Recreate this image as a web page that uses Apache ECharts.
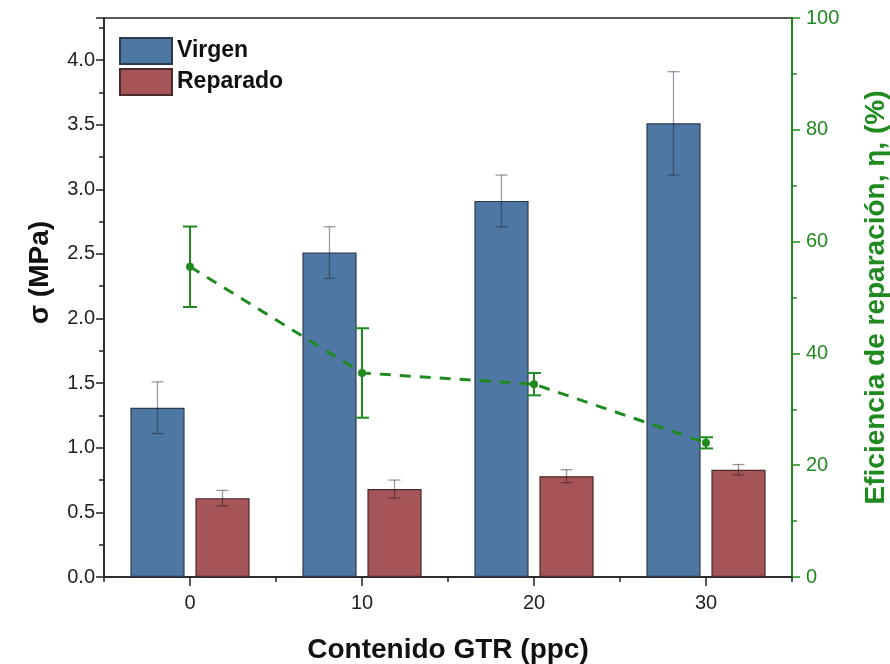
<!DOCTYPE html>
<html>
<head>
<meta charset="utf-8">
<script src="https://cdn.jsdelivr.net/npm/echarts@6/dist/echarts.min.js"></script>
<style>
  html, body { margin: 0; padding: 0; background: #fff; }
  #main { width: 890px; height: 664px; }
</style>
</head>
<body>
<div id="main"></div>
<script>
// datos
var categorias = ['0', '10', '20', '30'];
var virgen = [1.31, 2.51, 2.91, 3.51];
var virgenErr = [0.20, 0.20, 0.20, 0.40];
var reparado = [0.61, 0.68, 0.78, 0.83];
var reparadoErr = [0.06, 0.07, 0.05, 0.04];
var eficiencia = [55.5, 36.5, 34.5, 24];
var eficienciaErr = [7.2, 8, 2, 1];

var verde = '#1f8a1f';
var azul = '#4f77a3';
var rojo = '#a55457';

var chart = echarts.init(document.getElementById('main'));

// barra de error generica; shift = desplazamiento relativo al ancho de banda
function errorSeries(vals, errs, yIndex, shift, color, capW, lw) {
  return {
    type: 'custom',
    xAxisIndex: 0,
    yAxisIndex: yIndex,
    z: 5,
    silent: true,
    data: vals.map(function (v, i) { return [i, v - errs[i], v + errs[i]]; }),
    renderItem: function (params, api) {
      var band = api.size([1, 0])[0];
      var lo = api.coord([api.value(0), api.value(1)]);
      var hi = api.coord([api.value(0), api.value(2)]);
      var x = lo[0] + band * shift;
      var st = { stroke: color, lineWidth: lw };
      return {
        type: 'group',
        children: [
          { type: 'line', shape: { x1: x, y1: hi[1], x2: x, y2: lo[1] }, style: st },
          { type: 'line', shape: { x1: x - capW / 2, y1: hi[1], x2: x + capW / 2, y2: hi[1] }, style: st },
          { type: 'line', shape: { x1: x - capW / 2, y1: lo[1], x2: x + capW / 2, y2: lo[1] }, style: st }
        ]
      };
    }
  };
}

var option = {
  animation: false,
  textStyle: { fontFamily: 'Liberation Sans, Arial, sans-serif' },
  grid: {
    left: 104, right: 98, top: 18, bottom: 87,
    outerBoundsMode: 'none',
    containLabel: false,
    show: true, borderColor: '#222', borderWidth: 1.5
  },
  legend: {
    orient: 'vertical',
    left: 114, top: 32,
    icon: 'rect',
    itemWidth: 52, itemHeight: 26, itemGap: 3,
    textStyle: { fontSize: 23, fontWeight: 'bold', color: '#111' },
    data: ['Virgen', 'Reparado']
  },
  xAxis: [
    {
      type: 'category',
      data: categorias,
      name: 'Contenido GTR (ppc)',
      nameLocation: 'middle',
      nameGap: 59,
      nameTextStyle: { fontSize: 28, fontWeight: 'bold', color: '#111' },
      axisLine: { lineStyle: { color: '#222', width: 1.5 } },
      axisTick: { show: true, alignWithLabel: false, length: 5, lineStyle: { color: '#222', width: 1.5 } },
      axisLabel: { fontSize: 20, color: '#222', margin: 16 }
    },
    {
      type: 'category',
      data: categorias,
      position: 'bottom',
      axisLine: { show: false },
      axisTick: { show: true, alignWithLabel: true, length: 9, lineStyle: { color: '#222', width: 1.5 } },
      axisLabel: { show: false }
    }
  ],
  yAxis: [
    {
      type: 'value',
      min: 0,
      max: 4.325,
      interval: 0.5,
      name: 'σ (MPa)',
      nameLocation: 'middle',
      nameGap: 50,
      nameTextStyle: { fontSize: 28, fontWeight: 'bold', color: '#111', padding: [0, 0, 0, 50] },
      axisLine: { show: true, lineStyle: { color: '#222', width: 1.5 } },
      axisTick: { show: true, length: 8, lineStyle: { color: '#222', width: 1.5 } },
      minorTick: { show: true, splitNumber: 2, length: 5, lineStyle: { color: '#222', width: 1.5 } },
      axisLabel: {
        fontSize: 20, color: '#222', margin: 9,
        formatter: function (v) { return v > 4.1 ? '' : v.toFixed(1); }
      },
      splitLine: { show: false }
    },
    {
      type: 'value',
      min: 0,
      max: 100,
      interval: 20,
      position: 'right',
      name: 'Eficiencia de reparación, η, (%)',
      nameLocation: 'middle',
      nameGap: 70,
      nameRotate: 90,
      nameTextStyle: { fontSize: 28, fontWeight: 'bold', color: verde },
      axisLine: { show: true, lineStyle: { color: verde, width: 2 } },
      axisTick: { show: true, length: 8, lineStyle: { color: verde, width: 1.5 } },
      minorTick: { show: true, splitNumber: 2, length: 5, lineStyle: { color: verde, width: 1.5 } },
      axisLabel: { fontSize: 20, color: verde, margin: 14 },
      splitLine: { show: false }
    }
  ],
  series: [
    {
      name: 'Virgen',
      type: 'bar',
      xAxisIndex: 0,
      yAxisIndex: 0,
      data: virgen,
      barWidth: '31.5%',
      barGap: '20%',
      itemStyle: { color: azul, borderColor: '#2b3a4d', borderWidth: 1.2 }
    },
    {
      name: 'Reparado',
      type: 'bar',
      xAxisIndex: 0,
      yAxisIndex: 0,
      data: reparado,
      barWidth: '31.5%',
      barGap: '20%',
      itemStyle: { color: rojo, borderColor: '#4a2a2b', borderWidth: 1.2 }
    },
    errorSeries(virgen, virgenErr, 0, -0.189, 'rgba(20,30,50,0.45)', 12, 1.3),
    errorSeries(reparado, reparadoErr, 0, 0.189, 'rgba(40,20,20,0.45)', 12, 1.3),
    {
      name: 'Eficiencia',
      type: 'line',
      xAxisIndex: 0,
      yAxisIndex: 1,
      data: eficiencia,
      z: 6,
      symbol: 'circle',
      symbolSize: 8,
      itemStyle: { color: verde },
      lineStyle: { color: verde, width: 3, type: [11, 9] }
    },
    errorSeries(eficiencia, eficienciaErr, 1, 0, verde, 14, 2)
  ]
};
chart.setOption(option);
</script>
</body>
</html>
